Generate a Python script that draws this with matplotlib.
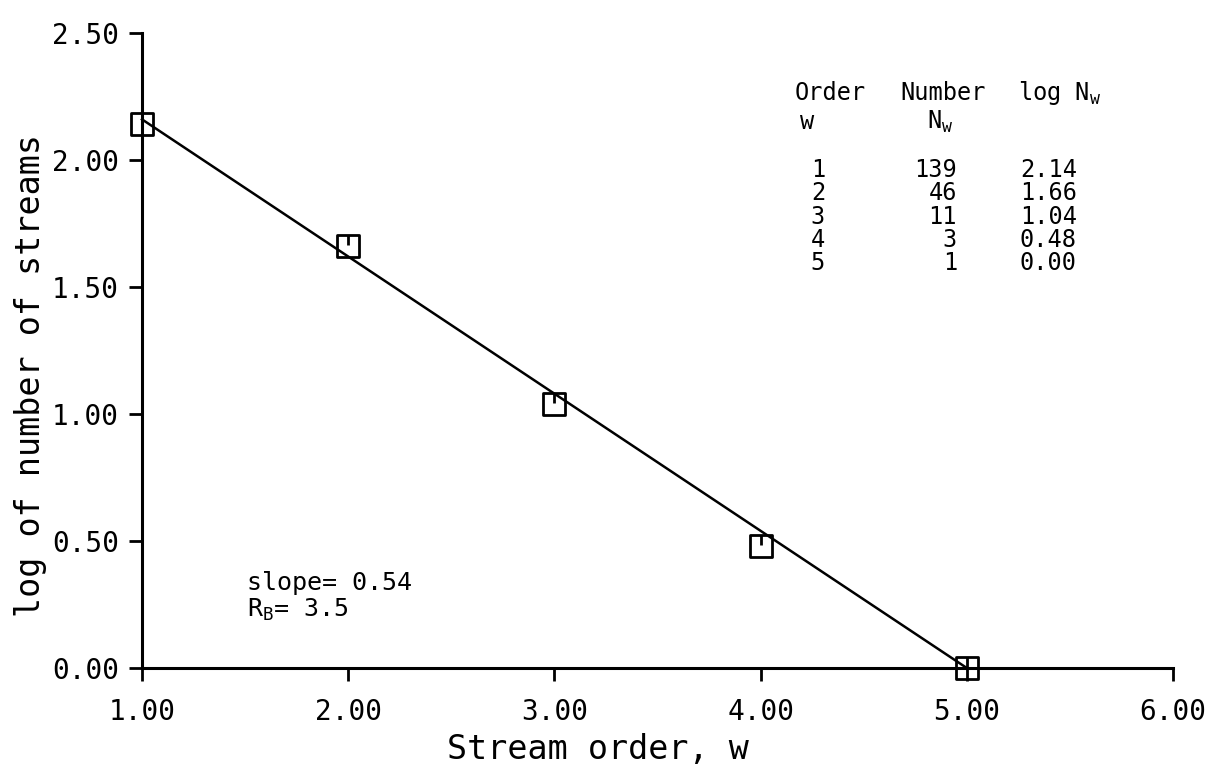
import matplotlib
matplotlib.use("Agg")
import matplotlib.pyplot as plt
from matplotlib.path import Path

plt.rcParams["font.family"] = ["DejaVu Sans Mono"]
plt.rcParams["mathtext.default"] = "regular"

# stream order data
order = [1, 2, 3, 4, 5]
number = [139, 46, 11, 3, 1]
log_n = [2.14, 1.66, 1.04, 0.48, 0.00]

# fitted line (slope 0.54)
fit_x = [1.0, 5.0]
fit_y = [2.16, 0.0]

xticks = [1, 2, 3, 4, 5, 6]
yticks = [0.0, 0.5, 1.0, 1.5, 2.0, 2.5]

# square marker with a small tick hanging from the top edge
verts = [(-1, -1), (1, -1), (1, 1), (-1, 1), (-1, -1), (0, 1), (0, 0.1)]
codes = [Path.MOVETO, Path.LINETO, Path.LINETO, Path.LINETO, Path.CLOSEPOLY,
         Path.MOVETO, Path.LINETO]
box_marker = Path(verts, codes)

fig = plt.figure(figsize=(12.18, 7.69), dpi=100)
ax = fig.add_axes([142 / 1218, 1 - 668 / 769, 1031 / 1218, 635 / 769])

ax.plot(fit_x, fit_y, color="black", lw=1.8, clip_on=False)
ax.plot(order, log_n, linestyle="none", marker=box_marker, markersize=16,
        markerfacecolor="none", markeredgecolor="black", markeredgewidth=2,
        clip_on=False, zorder=3)

ax.set_xlim(1, 6)
ax.set_ylim(0, 2.5)
ax.set_xticks(xticks, [f"{v:.2f}" for v in xticks])
ax.set_yticks(yticks, [f"{v:.2f}" for v in yticks])
for s in ("top", "right"):
    ax.spines[s].set_visible(False)
for s in ("left", "bottom"):
    ax.spines[s].set_linewidth(2.2)
ax.tick_params(axis="both", direction="out", length=9.5, width=2,
               labelsize=20, color="black")
ax.tick_params(axis="x", pad=12)
ax.tick_params(axis="y", pad=7)

ax.set_xlabel("Stream order, w", fontsize=24, va="center")
ax.xaxis.set_label_coords(0.442, -0.129)
ax.set_ylabel("log of number of streams", fontsize=24, va="center")
ax.yaxis.set_label_coords(-0.1086, 0.46)

# table of values
fs = 17
ax.text(4.337, 2.264, "Order", fontsize=fs, ha="center", va="center")
ax.text(4.225, 2.15, "w", fontsize=fs, ha="center", va="center")
ax.text(4.885, 2.264, "Number", fontsize=fs, ha="center", va="center")
ax.text(4.87, 2.15, "$N_w$", fontsize=fs, ha="center", va="center")
ax.text(5.248, 2.264, "log $N_w$", fontsize=fs, ha="left", va="center")
row_y = [1.961, 1.870, 1.776, 1.685, 1.594]
for w, n, lg, yy in zip(order, number, log_n, row_y):
    ax.text(4.278, yy, f"{w}", fontsize=fs, ha="center", va="center")
    ax.text(4.952, yy, f"{n}", fontsize=fs, ha="right", va="center")
    ax.text(5.258, yy, f"{lg:.2f}", fontsize=fs, ha="left", va="center")

ax.text(1.509, 0.335, "slope= 0.54", fontsize=18, ha="left", va="center")
ax.text(1.509, 0.228, "$R_B$= 3.5", fontsize=18, ha="left", va="center")

fig.savefig("out.png", dpi=100, facecolor="white")
